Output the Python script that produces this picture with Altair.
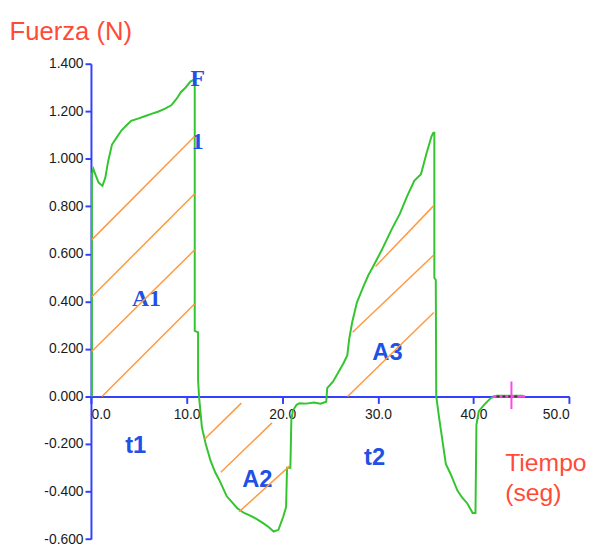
import altair as alt
import pandas as pd

# ---- data ----
curve_x = [0.1, 0.1, 0.25, 0.5, 0.8, 1.2, 1.5, 1.8, 2.2, 2.7, 3.2, 3.7, 4.2, 5.0, 5.7, 6.4, 7.0, 7.7,
           8.4, 9.0, 9.4, 9.9, 10.4, 10.85, 10.85, 11.2, 11.2, 11.3, 11.6, 12.0, 12.5, 13.0, 13.4, 14.2,
           15.3, 16.0, 16.6, 17.3, 18.0, 18.6, 19.1, 19.6, 20.1, 20.4, 20.5, 20.85, 20.95, 21.1, 21.5,
           21.8, 22.5, 23.3, 24.0, 24.6, 24.7, 25.3, 25.9, 26.4, 26.8, 27.0, 27.3, 27.8, 28.5, 29.0,
           29.5, 30.4, 31.4, 32.3, 33.0, 33.8, 34.5, 35.05, 35.6, 35.8, 35.9, 35.9, 36.05, 36.1, 36.4,
           36.8, 37.1, 37.6, 38.3, 38.8, 39.35, 39.9, 40.2, 40.3, 40.55, 41.1, 41.8, 42.4, 45.2]
curve_y = [0.0, 0.935, 0.957, 0.93, 0.90, 0.886, 0.92, 0.99, 1.06, 1.09, 1.12, 1.14, 1.16, 1.17, 1.18,
           1.19, 1.198, 1.21, 1.225, 1.255, 1.28, 1.30, 1.325, 1.335, 0.276, 0.27, 0.07, 0.0, -0.13,
           -0.20, -0.27, -0.32, -0.35, -0.42, -0.47, -0.49, -0.50, -0.515, -0.533, -0.55, -0.568,
           -0.561, -0.506, -0.465, -0.30, -0.30, -0.10, -0.06, -0.035, -0.028, -0.03, -0.025, -0.03,
           -0.022, 0.035, 0.062, 0.104, 0.14, 0.173, 0.242, 0.31, 0.395, 0.464, 0.51, 0.547, 0.616,
           0.70, 0.769, 0.838, 0.907, 0.935, 1.018, 1.094, 1.11, 1.11, 0.50, 0.49, 0.0, -0.09, -0.20,
           -0.284, -0.326, -0.395, -0.425, -0.45, -0.49, -0.49, -0.118, -0.062, -0.035, -0.007, 0.003,
           0.003]

hatch_x1 = [0.1, 0.1, 0.1, 1.15, 11.87, 13.58, 15.48, 29.75, 27.35, 26.83]
hatch_y1 = [0.66, 0.42, 0.19, 0.0, -0.18, -0.319, -0.485, 0.547, 0.27, 0.0]
hatch_x2 = [10.85, 10.85, 10.85, 10.85, 15.72, 18.92, 20.81, 35.84, 35.84, 35.84]
hatch_y2 = [1.095, 0.853, 0.617, 0.39, -0.028, -0.111, -0.291, 0.803, 0.595, 0.353]

serif_labels = ["F", "1", "A1"]
serif_x = [11.17, 11.17, 5.8]
serif_y = [1.335, 1.07, 0.41]

sans_labels = ["t1", "A2", "A3", "t2"]
sans_x = [4.68, 17.4, 31.0, 29.65]
sans_y = [-0.21, -0.35, 0.184, -0.26]

cross_x = [43.96]
cross_y = [0.0]
cross_ylo = [-0.053]
cross_yhi = [0.063]
cross_xlo = [42.0]
cross_xhi = [45.4]
dash_x1 = [42.4]
dash_x2 = [44.6]

x_ticks = [0, 10, 20, 30, 40, 50]
y_ticks = [-0.6, -0.4, -0.2, 0.0, 0.2, 0.4, 0.6, 0.8, 1.0, 1.2, 1.4]
x_title = ["Tiempo", "(seg)"]
y_title = "Fuerza (N)"

# ---- styling ----
W, H = 484.3, 481.4
AX_BLUE = "#3340ff"
TXT_BLUE = "#2050e6"
GREEN = "#33c52e"
ORANGE = "#ff9a40"
RED = "#ff4a3a"
MAGENTA = "#ff44ee"

xscale = alt.Scale(domain=[0, 50], nice=False, zero=False)
yscale = alt.Scale(domain=[-0.6, 1.4], nice=False, zero=False)

x_offset = -H * 0.6 / 2.0

xaxis = alt.Axis(values=x_ticks, format=".1f", offset=x_offset, grid=False,
                 domainColor=AX_BLUE, domainWidth=2, tickColor=AX_BLUE, tickWidth=2, tickSize=7,
                 labelColor="#1a1a1a", labelFont="Liberation Sans", labelFontSize=14, labelPadding=4,
                 title=x_title, titleColor=RED, titleFont="Liberation Sans", titleFontSize=25,
                 titleFontWeight="normal", titleX=419, titleY=75, titleAlign="left",
                 titleBaseline="alphabetic", titleLineHeight=30, titleAngle=0)
yaxis = alt.Axis(values=y_ticks, grid=False,
                 labelExpr="replace(format(datum.value, '.3f'), '\u2212', '-')",
                 domainColor=AX_BLUE, domainWidth=2, tickColor=AX_BLUE, tickWidth=2, tickSize=6,
                 labelColor="#1a1a1a", labelFont="Liberation Sans", labelFontSize=14, labelPadding=2,
                 title=y_title, titleColor=RED, titleFont="Liberation Sans", titleFontSize=26,
                 titleFontWeight="normal", titleX=-83, titleY=-25, titleAlign="left",
                 titleBaseline="alphabetic", titleAngle=0)

curve_df = pd.DataFrame({"x": curve_x, "y": curve_y, "i": list(range(len(curve_x)))})
hatch_df = pd.DataFrame({"x": hatch_x1, "y": hatch_y1, "x2": hatch_x2, "y2": hatch_y2})
serif_df = pd.DataFrame({"label": serif_labels, "x": serif_x, "y": serif_y})
sans_df = pd.DataFrame({"label": sans_labels, "x": sans_x, "y": sans_y})
cross_df = pd.DataFrame({"x": cross_x, "y": cross_y, "ylo": cross_ylo, "yhi": cross_yhi,
                         "xlo": cross_xlo, "xhi": cross_xhi, "d1": dash_x1, "d2": dash_x2})

X = lambda f="x": alt.X(f"{f}:Q", scale=xscale, axis=xaxis)
Y = lambda f="y": alt.Y(f"{f}:Q", scale=yscale, axis=yaxis)

curve = alt.Chart(curve_df).mark_line(color=GREEN, strokeWidth=2).encode(
    x=X(), y=Y(), order=alt.Order("i:Q"))

serif_text = alt.Chart(serif_df).mark_text(
    font="Liberation Serif", fontWeight="bold", fontSize=24, color=TXT_BLUE,
    align="center", baseline="middle").encode(x=X(), y=Y(), text="label:N")

sans_text = alt.Chart(sans_df).mark_text(
    font="Liberation Sans", fontWeight="bold", fontSize=24, color=TXT_BLUE,
    align="center", baseline="middle").encode(x=X(), y=Y(), text="label:N")

hatches = alt.Chart(hatch_df).mark_rule(color=ORANGE, strokeWidth=1.5).encode(
    x=X(), y=Y(), x2="x2:Q", y2="y2:Q")

cross_v = alt.Chart(cross_df).mark_rule(color=MAGENTA, strokeWidth=2).encode(
    x=X(), y=Y("ylo"), y2="yhi:Q")
cross_h = alt.Chart(cross_df).mark_rule(color=MAGENTA, strokeWidth=2.5).encode(
    x=X("xlo"), x2="xhi:Q", y=Y())
dashes = alt.Chart(cross_df).mark_rule(color="#333333", strokeWidth=2, strokeDash=[3, 3]).encode(
    x=X("d1"), x2="d2:Q", y=Y())

chart = alt.layer(curve, serif_text, sans_text, hatches, cross_h, dashes, cross_v).properties(
    width=W, height=H,
    autosize=alt.AutoSizeParams(type="none"),
    padding={"left": 84, "top": 53, "right": 17, "bottom": 8},
).configure_view(stroke=None)

chart.save("out.html", embed_options={"renderer": "svg", "actions": False})
